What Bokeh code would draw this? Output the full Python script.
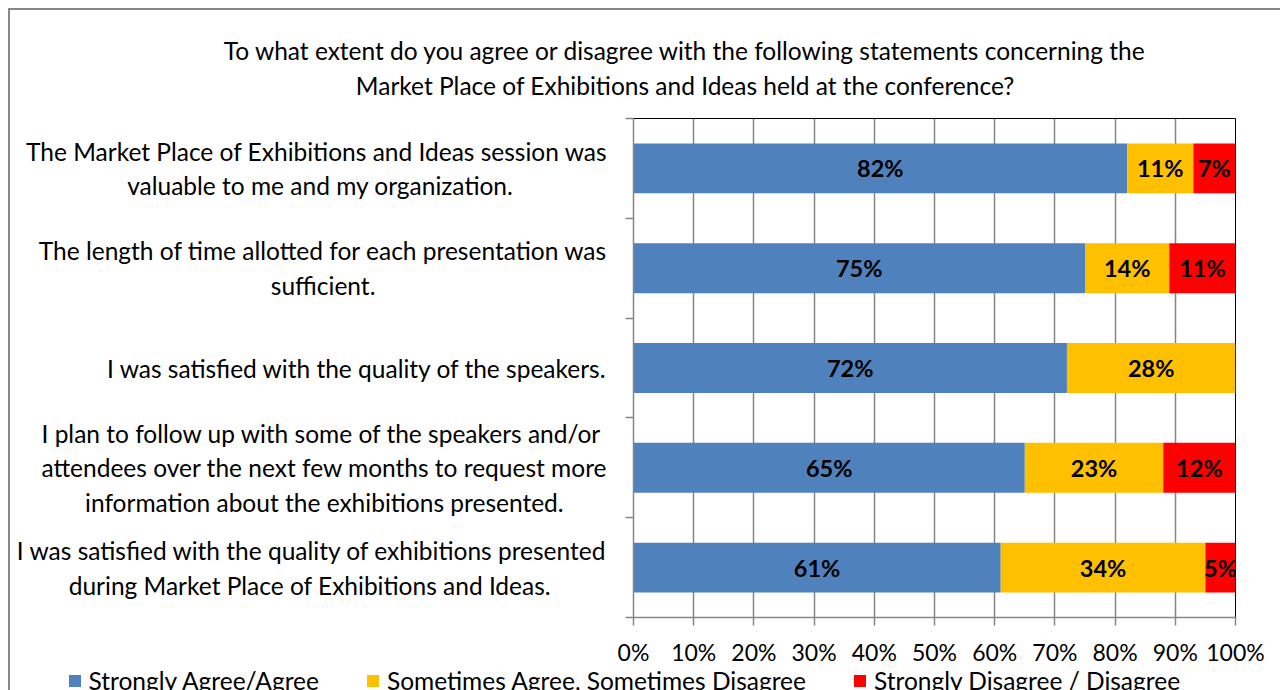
from bokeh.plotting import figure
from bokeh.models import Range1d, FixedTicker, NumeralTickFormatter, ColumnDataSource, LinearAxis, Legend, LegendItem
from bokeh.embed import file_html
from bokeh.resources import INLINE
from bokeh.core.properties import value

# ---- data ----
categories = [
    "The Market Place of Exhibitions and Ideas session was\nvaluable to me and my organization.",
    "The length of time allotted for each presentation was\nsufficient.",
    "I was satisfied with the quality of the speakers.",
    "I plan to follow up with some of the speakers and/or\nattendees over the next few months to request more\ninformation about the exhibitions presented.",
    "I was satisfied with the quality of exhibitions presented\nduring Market Place of Exhibitions and Ideas.",
]
agree = [82, 75, 72, 65, 61]
sometimes = [11, 14, 28, 23, 34]
disagree = [7, 11, 0, 12, 5]
series_names = ["Strongly Agree/Agree", "Sometimes Agree, Sometimes Disagree", "Strongly Disagree / Disagree"]
colors = ["#4F81BD", "#FFC000", "#FF0000"]
x_ticks = [0, 0.1, 0.2, 0.3, 0.4, 0.5, 0.6, 0.7, 0.8, 0.9, 1.0]
title_lines = [
    "To what extent do you agree or disagree with the following statements concerning the",
    "Market Place of Exhibitions and Ideas held at the conference?",
]

FONT = "Lato"
FS_CAT = "24.5px"
FS_TICK = "23px"
FS_BAR = "23.5px"
W = 1280
H_MAIN, H_LEG = 668, 22
ML, MR, MT, MB = 633, 45, 118, 48
n = len(categories)
GRAY = "#868686"
NBSP = "\u00a0"
BORDER_LEFT = "linear-gradient(#888888,#888888) 8px 0 / 2px 100% no-repeat"
BORDER_LEFT_TOP = ("linear-gradient(#888888,#888888) 8px 8px / 2px calc(100% - 8px) no-repeat, "
                   "linear-gradient(#888888,#888888) 8px 8px / calc(100% - 8px) 2px no-repeat")

# trailing no-break spaces so the lines of each right-aligned label look centred
line_pad = [[0, 15], [0, 37], [0], [1, 0, 7], [0, 9]]

def padded(label, pads):
    return "\n".join(l + NBSP * k for l, k in zip(label.split("\n"), pads))

p = figure(width=W, height=H_MAIN, output_backend="svg", toolbar_location=None,
           x_range=Range1d(0, 1), y_range=Range1d(0, n),
           min_border_left=ML, min_border_right=MR, min_border_top=MT, min_border_bottom=MB)
p.border_fill_color = None
p.styles = {"background": BORDER_LEFT_TOP}
p.outline_line_color = "black"
p.outline_line_width = 1

ys = [n - 0.5 - i for i in range(n)]
src = ColumnDataSource(dict(y=ys,
                            a=[v / 100 for v in agree],
                            s=[v / 100 for v in sometimes],
                            d=[v / 100 for v in disagree]))
p.hbar_stack(["a", "s", "d"], y="y", height=0.5, color=colors, line_color=None, source=src)

# value labels
lx, ly, lt = [], [], []
for i in range(n):
    start = 0
    for v in (agree[i], sometimes[i], disagree[i]):
        if v > 0:
            lx.append((start + v / 2) / 100)
            ly.append(ys[i])
            lt.append(f"{v}%")
        start += v
p.text(x=lx, y=ly, text=lt, text_font=value(FONT), text_font_size=FS_BAR, text_font_style="bold",
       text_align="center", text_baseline="middle", text_color="black")

# x axis
p.xaxis.ticker = FixedTicker(ticks=x_ticks)
p.xaxis.formatter = NumeralTickFormatter(format="0%")
p.xaxis.axis_line_color = GRAY
p.xaxis.axis_line_width = 1.5
p.xaxis.major_tick_line_color = GRAY
p.xaxis.major_tick_line_width = 1.5
p.xaxis.major_tick_in = 0
p.xaxis.major_tick_out = 8
p.xaxis.minor_tick_line_color = None
p.xaxis.major_label_text_font = FONT
p.xaxis.major_label_text_font_size = FS_TICK
p.xaxis.major_label_text_color = "black"
p.xaxis.major_label_standoff = 12

# y axis: labels at category centres, tick marks at category boundaries
ya = p.yaxis[0]
ya.ticker = FixedTicker(ticks=ys, minor_ticks=list(range(n + 1)))
ya.major_label_overrides = {y: padded(c, pd) for y, c, pd in zip(ys, categories, line_pad)}
ya.axis_line_color = GRAY
ya.axis_line_width = 1.5
ya.major_tick_line_color = None
ya.major_tick_in = 0
ya.major_tick_out = 0
ya.minor_tick_line_color = GRAY
ya.minor_tick_line_width = 1.5
ya.minor_tick_in = 0
ya.minor_tick_out = 8
ya.major_label_standoff = 18
ya.major_label_text_font = FONT
ya.major_label_text_font_size = FS_CAT
ya.major_label_text_color = "black"

p.xgrid.grid_line_color = GRAY
p.xgrid.grid_line_width = 1.5
p.ygrid.grid_line_color = None

# title: a centred two-line label on an axis above the plot
title_x = 0.086
ta = LinearAxis(ticker=FixedTicker(ticks=[title_x], minor_ticks=[]),
                major_label_overrides={title_x: "\n".join(title_lines)})
ta.axis_line_color = None
ta.major_tick_line_color = None
ta.major_tick_in = 0
ta.major_tick_out = 0
ta.minor_tick_line_color = None
ta.major_label_standoff = 19
ta.major_label_text_font = FONT
ta.major_label_text_font_size = FS_CAT
ta.major_label_text_color = "black"
p.add_layout(ta, "above")

# legend strip under the chart (a second root, so its frame is the full width)
q = figure(width=W, height=H_LEG, output_backend="svg", toolbar_location=None,
           x_range=Range1d(0, 1), y_range=Range1d(0, 1),
           min_border_left=0, min_border_right=0, min_border_top=0, min_border_bottom=0)
q.axis.visible = False
q.grid.visible = False
q.outline_line_color = None
q.border_fill_color = None
q.background_fill_color = None
q.styles = {"background": BORDER_LEFT}
items = []
for name, col in zip(series_names, colors):
    # zero-width bar: nothing drawn in the strip, only its legend swatch
    r = q.hbar(y=[0.5], left=[0], right=[0], height=0.5, fill_color=col, line_color=None)
    items.append(LegendItem(label=name, renderers=[r]))
lg = Legend(items=items, orientation="horizontal", location=(66.5, -4.5), spacing=46,
            glyph_width=15, glyph_height=15, label_standoff=7,
            padding=0, margin=0, border_line_color=None, background_fill_alpha=0,
            label_text_font=FONT, label_text_font_size=FS_CAT, label_text_color="black")
q.add_layout(lg, "center")

open("out.html", "w").write(file_html([p, q], INLINE))
